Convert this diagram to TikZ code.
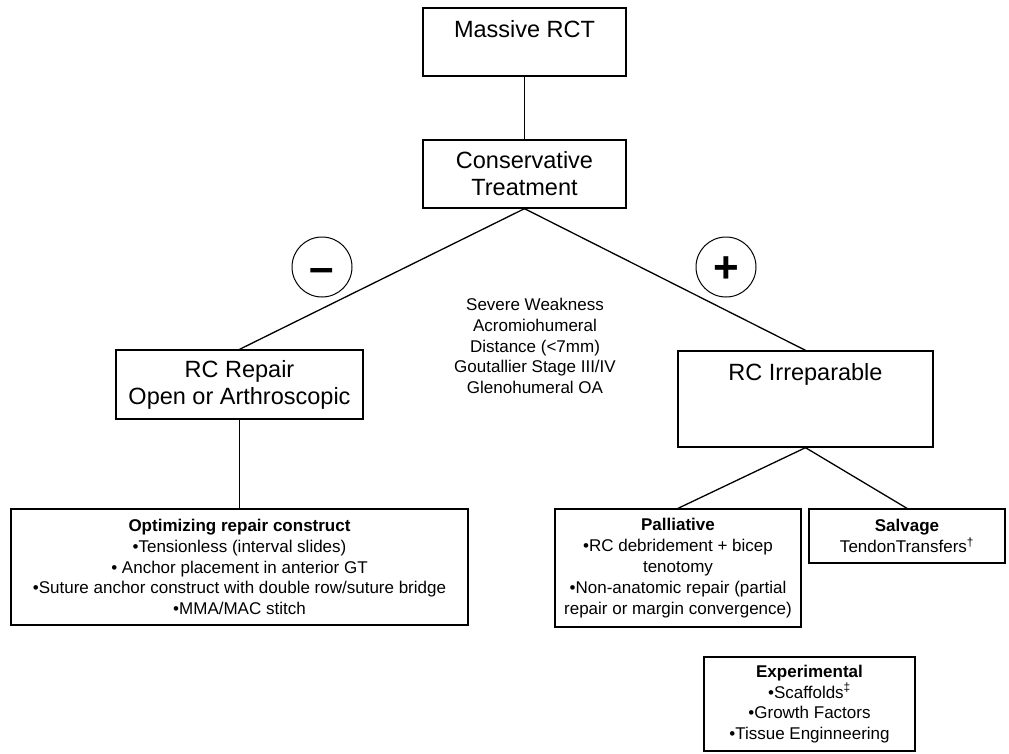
\documentclass[tikz,border=0pt]{standalone}
\usepackage{fontspec}
\setmainfont{Liberation Sans}
\usepackage{tikz}

\begin{document}
\begin{tikzpicture}[x=1pt,y=-1pt,
	box/.style={draw, line width=1.3pt, rectangle, inner sep=0pt, align=center},
	big/.style={font=\fontsize{23.5}{27}\selectfont},
	small/.style={font=\fontsize{17}{20.8}\selectfont},
	sign/.style={draw, line width=1pt, circle, minimum size=60pt, inner sep=0pt,
		text height=30pt, text depth=0pt, font=\fontsize{44}{44}\selectfont\bfseries},
	link/.style={line width=1.3pt}]
	\useasboundingbox (0,0) rectangle (1009,753);
%	top of the tree
	\node[box, big, minimum width=203pt, minimum height=68pt] (massive) at (524.5,42) {Massive RCT\\~};
	\node[box, big, minimum width=203pt, minimum height=68pt] (cons) at (524.5,174) {Conservative\\Treatment};
	\draw[link] (massive) -- (cons);
	
	\node[box, big, minimum width=247pt, minimum height=69pt] (repair) at (239.5,384.5) {RC Repair\\Open or Arthroscopic};
	\node[box, big, minimum width=255pt, minimum height=96pt] (irrep) at (805.5,399) {RC Irreparable\\~\\~};
	\draw[link] (cons.south) -- (repair.north);
	\draw[link] (cons.south) -- (irrep.north);
	
	\node[sign] (minus) at (322,267) {–};
	\node[sign] (plus) at (726,267) {+};
	
	\node[small, align=center] (crit) at (535,346) {Severe Weakness\\Acromiohumeral\\Distance (<7mm)\\Goutallier Stage III/IV\\Glenohumeral OA};
	
%	bottom row
	\node[box, small, minimum width=457pt, minimum height=116pt] (optim) at (239.5,567) {\textbf{Optimizing repair construct}\\•Tensionless (interval slides)\\• Anchor placement in anterior GT\\•Suture anchor construct with double row/suture bridge\\•MMA/MAC stitch};
	\node[box, small, minimum width=246pt, minimum height=118pt] (pall) at (678,568) {\textbf{Palliative}\\•RC debridement + bicep\\tenotomy\\•Non-anatomic repair (partial\\repair or margin convergence)};
	\node[box, small, minimum width=196pt, minimum height=54pt] (salv) at (907,536) {\textbf{Salvage}\\TendonTransfers\textsuperscript{†}};
	\node[box, small, minimum width=211pt, minimum height=94pt] (expt) at (809.5,704) {\textbf{Experimental}\\•Scaffolds\textsuperscript{‡}\\•Growth Factors\\•Tissue Enginneering};
	
	\draw[link] (repair.south) -- (optim.north);
	\draw[link] (irrep.south) -- (pall.north);
	\draw[link] (irrep.south) -- (salv.north);
\end{tikzpicture}
\end{document}
